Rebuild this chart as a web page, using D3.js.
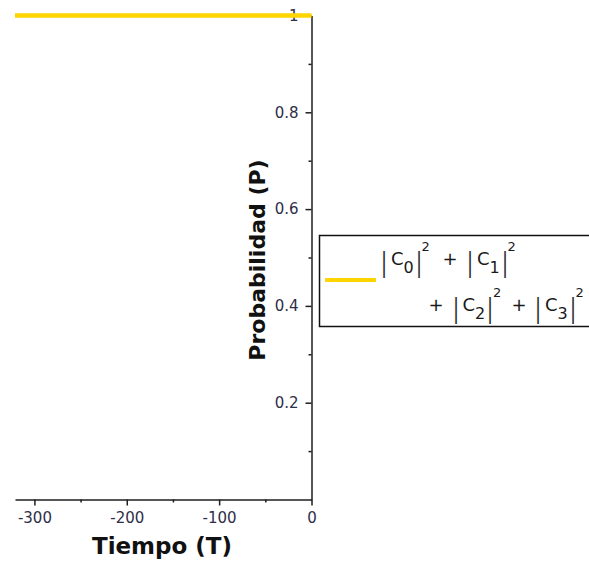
<!DOCTYPE html>
<html>
<head>
<meta charset="utf-8">
<script src="https://cdn.jsdelivr.net/npm/d3@7"></script>
<style>
  html, body { margin: 0; padding: 0; background: #fff; }
  svg { display: block; }
</style>
</head>
<body>
<div id="chart"></div>
<script>
// ---- data ----
const timeValues = [-321, 0];
const probValues = [1, 1];
const xTicks = [-300, -200, -100, 0];
const xMinorTicks = [-250, -150, -50];
const yTicks = [0.2, 0.4, 0.6, 0.8, 1];
const yMinorTicks = [0.1, 0.3, 0.5, 0.7, 0.9];
const xLabel = "Tiempo (T)";
const yLabel = "Probabilidad (P)";
const legendSubscripts = ["0", "1", "2", "3"];
const lineColor = "#ffd500";

// ---- layout ----
const W = 589, H = 563;
const svg = d3.select("#chart").append("svg").attr("width", W).attr("height", H);

const x = d3.scaleLinear().domain([-321, 0]).range([15, 311.5]);
const y = d3.scaleLinear().domain([0, 1]).range([499.5, 15.5]);

const axisColor = "#1e1e1e";
const tickTextColor = "#2e2e48";
const font = "'DejaVu Sans', Verdana, sans-serif";

// x axis
const gx = svg.append("g").attr("transform", `translate(0,${y(0)})`)
  .call(d3.axisBottom(x).tickValues(xTicks).tickSize(6).tickSizeOuter(0).tickPadding(7)
        .tickFormat(d => d === 0 ? "0" : d3.format("d")(d).replace("−", "-")));
gx.select(".domain").attr("stroke", axisColor).attr("stroke-width", 1.5);
gx.selectAll(".tick line").attr("stroke", axisColor).attr("stroke-width", 1.5);
gx.selectAll(".tick text").attr("fill", tickTextColor)
  .style("font-family", font).style("font-size", "15px");

const gxm = svg.append("g").attr("transform", `translate(0,${y(0)})`)
  .call(d3.axisBottom(x).tickValues(xMinorTicks).tickSize(3).tickSizeOuter(0).tickFormat(""));
gxm.select(".domain").remove();
gxm.selectAll(".tick line").attr("stroke", axisColor).attr("stroke-width", 1.5);

// y axis at x = 0
const gy = svg.append("g").attr("transform", `translate(${x(0)},0)`)
  .call(d3.axisLeft(y).tickValues(yTicks).tickSize(6).tickSizeOuter(0).tickPadding(7)
        .tickFormat(d => d === 1 ? "1" : d3.format(".1f")(d)));
gy.select(".domain").attr("stroke", axisColor).attr("stroke-width", 1.5);
gy.selectAll(".tick line").attr("stroke", axisColor).attr("stroke-width", 1.5);
gy.selectAll(".tick text").attr("fill", tickTextColor)
  .style("font-family", font).style("font-size", "15px");

const gym = svg.append("g").attr("transform", `translate(${x(0)},0)`)
  .call(d3.axisLeft(y).tickValues(yMinorTicks).tickSize(3).tickSizeOuter(0).tickFormat(""));
gym.select(".domain").remove();
gym.selectAll(".tick line").attr("stroke", axisColor).attr("stroke-width", 1.5);

// axis labels
svg.append("text")
  .attr("x", 162).attr("y", 554).attr("text-anchor", "middle")
  .style("font-family", font).style("font-size", "23px")
  .style("font-weight", "bold").attr("fill", "#111")
  .text(xLabel);

svg.append("text")
  .attr("transform", `translate(265,260) rotate(-90)`).attr("text-anchor", "middle")
  .style("font-family", font).style("font-size", "22px")
  .style("font-weight", "bold").attr("fill", "#111")
  .text(yLabel);

// data line
const pts = timeValues.map((t, i) => [t, probValues[i]]);
svg.append("path")
  .datum(pts)
  .attr("fill", "none").attr("stroke", lineColor).attr("stroke-width", 4.5)
  .attr("d", d3.line().x(d => x(d[0])).y(d => y(d[1])));

// legend
const lg = svg.append("g");
lg.append("rect").attr("x", 319.5).attr("y", 235.5).attr("width", 300).attr("height", 91)
  .attr("fill", "#fff").attr("stroke", "#111").attr("stroke-width", 1.5);
lg.append("line").attr("x1", 325).attr("x2", 376).attr("y1", 280).attr("y2", 280)
  .attr("stroke", lineColor).attr("stroke-width", 4);

function glyph(txt, gx, gy, size, anchor) {
  return lg.append("text").attr("x", gx).attr("y", gy).attr("text-anchor", anchor || "start")
    .style("font-family", font).style("font-size", size + "px").attr("fill", "#1a1a1a")
    .text(txt);
}
function pipe(lineX, base) {
  lg.append("text")
    .attr("transform", `translate(${Math.round(lineX - 3)},${base + 6}) scale(1,1.5)`)
    .style("font-family", font).style("font-size", "18px")
    .attr("fill", "#2a2a2a").text("|");
}
function term(sub, px, base) {
  // |C_sub|^2, px = x of the opening bar
  pipe(px, base);
  glyph("C", px + 7, base, 18);
  glyph(sub, px + 19.5, base + 8, 16);
  pipe(px + 34.5, base);
  glyph("2", px + 37.5, base - 14, 13);
}
term(legendSubscripts[0], 384, 265);
glyph("+", 450, 265, 18, "middle");
term(legendSubscripts[1], 470, 265);
glyph("+", 436, 311, 18, "middle");
term(legendSubscripts[2], 455.5, 311);
glyph("+", 519, 311, 18, "middle");
term(legendSubscripts[3], 538, 311);
</script>
</body>
</html>
